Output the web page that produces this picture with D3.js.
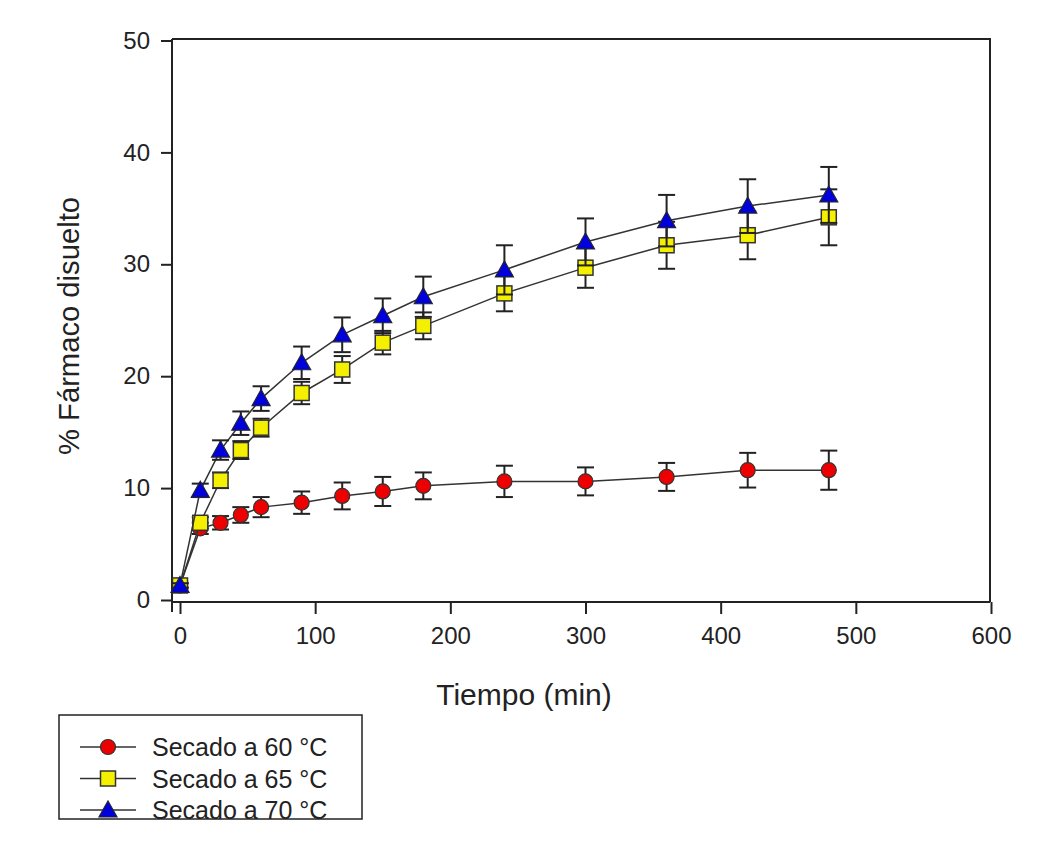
<!DOCTYPE html>
<html>
<head>
<meta charset="utf-8">
<script src="https://cdn.jsdelivr.net/npm/d3@7"></script>
<style>
  body { margin: 0; background: #fff; }
  text { font-family: "Liberation Sans", Arial, sans-serif; fill: #222; }
</style>
</head>
<body>
<svg id="chart"></svg>
<script>
// Data
const tiempos = [0, 15, 30, 45, 60, 90, 120, 150, 180, 240, 300, 360, 420, 480];
const seco60 = [1.3, 6.4, 6.9, 7.6, 8.3, 8.7, 9.3, 9.7, 10.2, 10.6, 10.6, 11.0, 11.6, 11.6];
const err60  = [0.2, 0.5, 0.6, 0.7, 0.9, 1.0, 1.2, 1.3, 1.2, 1.4, 1.25, 1.25, 1.55, 1.75];
const seco65 = [1.3, 6.9, 10.7, 13.4, 15.4, 18.5, 20.6, 23.0, 24.5, 27.4, 29.7, 31.7, 32.6, 34.2];
const err65  = [0.2, 0.5, 0.7, 0.8, 0.8, 1.0, 1.2, 1.05, 1.2, 1.6, 1.8, 2.1, 2.15, 2.5];
const seco70 = [1.3, 9.8, 13.4, 15.8, 18.0, 21.2, 23.7, 25.4, 27.1, 29.5, 32.0, 33.9, 35.2, 36.2];
const err70  = [0.2, 0.6, 0.87, 1.05, 1.1, 1.45, 1.55, 1.55, 1.8, 2.2, 2.1, 2.3, 2.4, 2.5];
const xTicks = [0, 100, 200, 300, 400, 500, 600];
const yTicks = [0, 10, 20, 30, 40, 50];

const series = [
  { name: "Secado a 60 °C", values: seco60, errors: err60, shape: "circle", color: "#ee0000" },
  { name: "Secado a 65 °C", values: seco65, errors: err65, shape: "square", color: "#f5f000" },
  { name: "Secado a 70 °C", values: seco70, errors: err70, shape: "triangle", color: "#0000dd" }
];

const W = 1053, H = 848;
const svg = d3.select("#chart").attr("width", W).attr("height", H);

const x = d3.scaleLinear().domain([0, 600]).range([180, 991]);
const y = d3.scaleLinear().domain([0, 50]).range([600, 40.5]);

const frameLeft = 172, frameTop = 39, frameRight = 990, frameBottom = 602;

// frame (top and right)
svg.append("path")
  .attr("d", `M${frameLeft},${frameTop}H${frameRight}V${frameBottom}`)
  .attr("fill", "none").attr("stroke", "#222").attr("stroke-width", 2);

// left axis
const yAxis = svg.append("g")
  .attr("transform", `translate(${frameLeft},0)`)
  .call(d3.axisLeft(y).tickValues(yTicks).tickSize(11).tickPadding(11).tickSizeOuter(0));
yAxis.select(".domain").attr("d", `M0,${frameTop}V612`).attr("stroke", "#222").attr("stroke-width", 2);
yAxis.selectAll(".tick line").attr("stroke", "#222").attr("stroke-width", 2);
yAxis.selectAll("text").attr("font-size", 24).style("font-family", "Liberation Sans, Arial, sans-serif").attr("fill", "#222");

// bottom axis
const xAxis = svg.append("g")
  .attr("transform", `translate(0,${frameBottom})`)
  .call(d3.axisBottom(x).tickValues(xTicks).tickSize(12).tickPadding(13).tickSizeOuter(0));
xAxis.select(".domain").attr("d", `M${frameLeft},0H${frameRight}`).attr("stroke", "#222").attr("stroke-width", 2);
xAxis.selectAll(".tick line").attr("stroke", "#222").attr("stroke-width", 2);
xAxis.selectAll("text").attr("font-size", 24).style("font-family", "Liberation Sans, Arial, sans-serif").attr("fill", "#222");

// axis titles
svg.append("text")
  .attr("x", 524).attr("y", 705)
  .attr("text-anchor", "middle")
  .attr("font-size", 30)
  .text("Tiempo (min)");

svg.append("text")
  .attr("transform", "translate(79,326) rotate(-90)")
  .attr("text-anchor", "middle")
  .attr("font-size", 29)
  .attr("textLength", 258)
  .attr("lengthAdjust", "spacingAndGlyphs")
  .text("% Fármaco disuelto");

// marker drawer
function drawMarker(g, shape, color) {
  if (shape === "circle") {
    g.append("circle").attr("r", 7.5)
      .attr("fill", color).attr("stroke", "#333").attr("stroke-width", 1.2);
  } else if (shape === "square") {
    g.append("rect").attr("x", -7.5).attr("y", -7.5).attr("width", 15).attr("height", 15)
      .attr("fill", color).attr("stroke", "#333").attr("stroke-width", 1.5);
  } else {
    g.append("path").attr("d", "M0,-9L9,7H-9Z")
      .attr("fill", color).attr("stroke", "#223").attr("stroke-width", 1.2);
  }
}

const line = d3.line().x(d => x(d.t)).y(d => y(d.v));

series.forEach(s => {
  const pts = tiempos.map((t, i) => ({ t, v: s.values[i], e: s.errors[i] }));
  const g = svg.append("g");

  g.append("path").datum(pts)
    .attr("d", line)
    .attr("fill", "none").attr("stroke", "#333").attr("stroke-width", 1.5);

  const eb = g.selectAll(".err").data(pts).enter().append("g");
  eb.append("line")
    .attr("x1", d => x(d.t)).attr("x2", d => x(d.t))
    .attr("y1", d => y(d.v + d.e)).attr("y2", d => y(d.v - d.e))
    .attr("stroke", "#222").attr("stroke-width", 2);
  eb.append("line")
    .attr("x1", d => x(d.t) - 8.5).attr("x2", d => x(d.t) + 8.5)
    .attr("y1", d => y(d.v + d.e)).attr("y2", d => y(d.v + d.e))
    .attr("stroke", "#222").attr("stroke-width", 2);
  eb.append("line")
    .attr("x1", d => x(d.t) - 8.5).attr("x2", d => x(d.t) + 8.5)
    .attr("y1", d => y(d.v - d.e)).attr("y2", d => y(d.v - d.e))
    .attr("stroke", "#222").attr("stroke-width", 2);

  g.selectAll(".mk").data(pts).enter().append("g")
    .attr("transform", d => `translate(${x(d.t)},${y(d.v)})`)
    .each(function () { drawMarker(d3.select(this), s.shape, s.color); });
});

// legend
const leg = svg.append("g");
leg.append("rect")
  .attr("x", 59).attr("y", 715).attr("width", 303).attr("height", 104)
  .attr("fill", "#fff").attr("stroke", "#222").attr("stroke-width", 1.5);

series.forEach((s, i) => {
  const cy = 747 + i * 31.5;
  leg.append("line").attr("x1", 80).attr("x2", 136).attr("y1", cy).attr("y2", cy)
    .attr("stroke", "#333").attr("stroke-width", 1.5);
  const m = leg.append("g").attr("transform", `translate(108,${cy})`);
  drawMarker(m, s.shape, s.color);
  leg.append("text").attr("x", 152).attr("y", cy + 9)
    .attr("font-size", 25).text(s.name);
});
</script>
</body>
</html>
